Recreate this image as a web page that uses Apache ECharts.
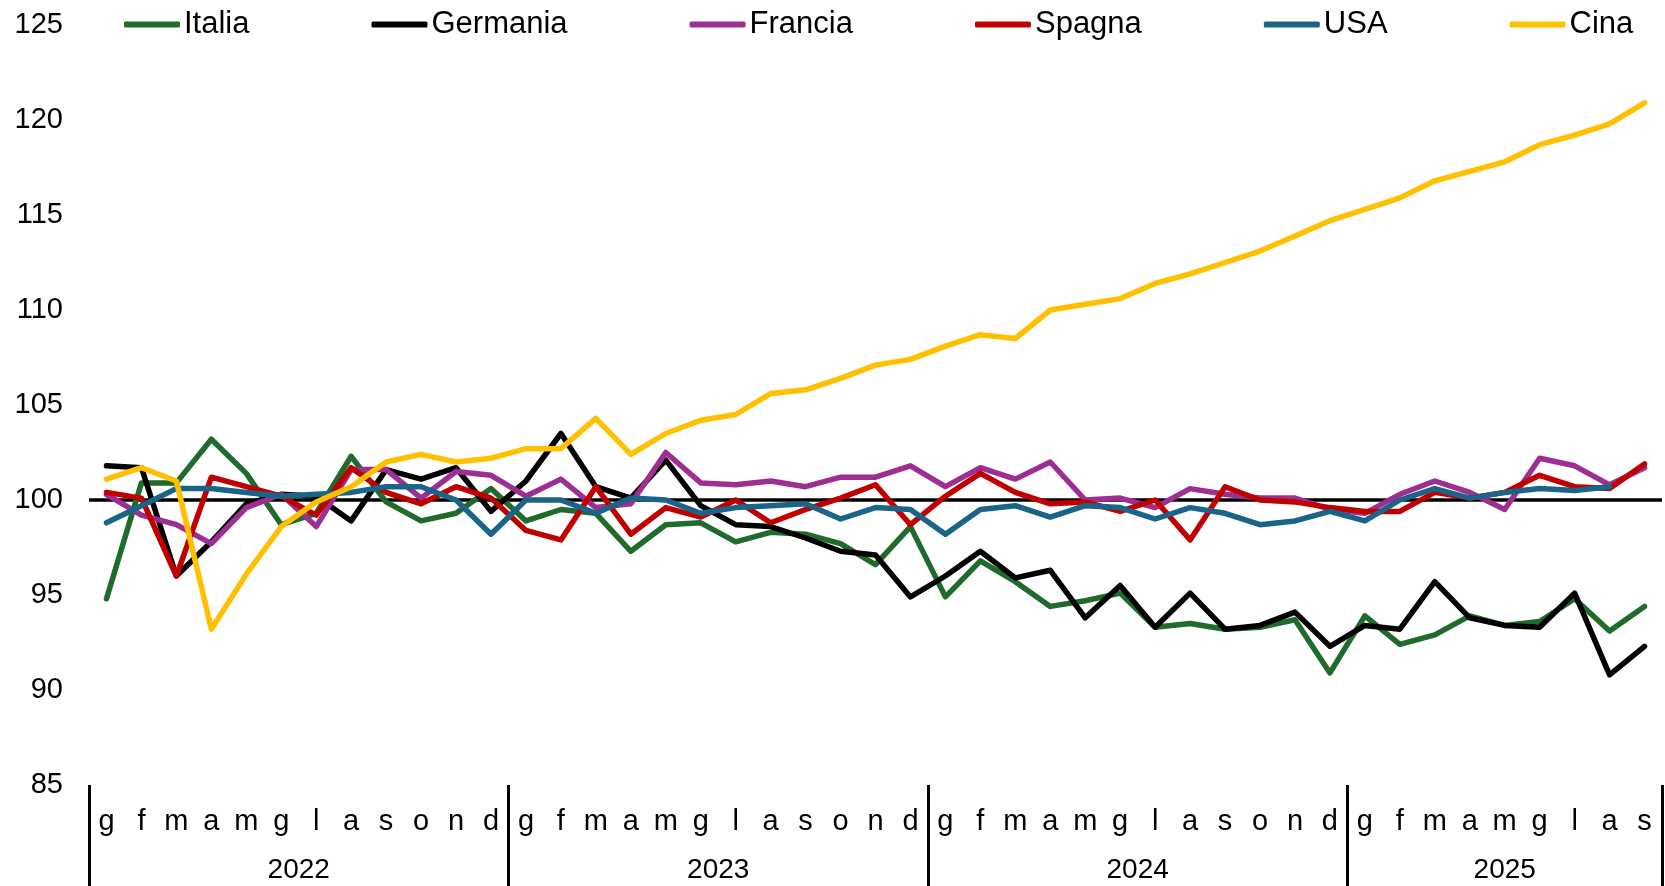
<!DOCTYPE html>
<html>
<head>
<meta charset="utf-8">
<title>Produzione industriale</title>
<script src="https://cdn.jsdelivr.net/npm/echarts@6.0.0/dist/echarts.min.js"></script>
<style>
html,body{margin:0;padding:0;background:#fff;}
#chart{width:1665px;height:886px;}
</style>
</head>
<body>
<div id="chart"></div>
<script>
let mesi=["g","f","m","a","m","g","l","a","s","o","n","d"];
let anni=["2022","2023","2024","2025"];
let nMesi=45;//gen 2022 - set 2025

let italia=[94.8,100.9,100.9,103.2,101.4,98.7,99.3,102.3,99.9,98.9,99.3,100.6,
	98.9,99.5,99.3,97.3,98.7,98.8,97.8,98.3,98.2,97.7,96.6,98.6,
	94.9,96.8,95.7,94.4,94.7,95.1,93.3,93.5,93.2,93.3,93.7,90.9,
	93.9,92.4,92.9,93.9,93.4,93.6,94.8,93.1,94.4];
let germania=[101.8,101.7,96.0,97.8,99.8,100.3,100.2,98.9,101.6,101.1,101.7,99.4,
	101.0,103.5,100.7,100.1,102.1,99.7,98.7,98.6,98.0,97.3,97.1,94.9,
	96.0,97.3,95.9,96.3,93.8,95.5,93.3,95.1,93.2,93.4,94.1,92.3,
	93.4,93.2,95.7,93.8,93.4,93.3,95.1,90.8,92.3];
let francia=[100.3,99.2,98.7,97.7,99.6,100.3,98.6,101.6,101.6,100.1,101.5,101.3,
	100.2,101.1,99.6,99.8,102.5,100.9,100.8,101.0,100.7,101.2,101.2,101.8,
	100.7,101.7,101.1,102.0,100.0,100.1,99.6,100.6,100.3,100.1,100.1,99.5,
	99.3,100.3,101.0,100.4,99.5,102.2,101.8,100.8,101.7];
let spagna=[100.4,100.1,96.0,101.2,100.7,100.2,99.2,101.7,100.4,99.8,100.7,100.1,
	98.4,97.9,100.7,98.2,99.6,99.1,100.0,98.8,99.5,100.1,100.8,98.7,
	100.2,101.4,100.4,99.8,99.9,99.4,100.0,97.9,100.7,100.0,99.9,99.6,
	99.4,99.4,100.4,100.1,100.4,101.3,100.7,100.6,101.9];
let usa=[98.8,99.7,100.6,100.6,100.4,100.2,100.3,100.4,100.7,100.7,100.0,98.2,
	100.0,100.0,99.3,100.1,100.0,99.3,99.6,99.7,99.8,99.0,99.6,99.5,
	98.2,99.5,99.7,99.1,99.7,99.6,99.0,99.6,99.3,98.7,98.9,99.4,
	98.9,100.0,100.6,100.1,100.4,100.6,100.5,100.7,null];
let cina=[101.1,101.7,101.0,93.2,96.1,98.6,99.9,100.7,102.0,102.4,102.0,102.2,
	102.7,102.7,104.3,102.4,103.5,104.2,104.5,105.6,105.8,106.4,107.1,107.4,
	108.1,108.7,108.5,110.0,110.3,110.6,111.4,111.9,112.5,113.1,113.9,114.7,
	115.3,115.9,116.8,117.3,117.8,118.7,119.2,119.8,120.9];

let nomi=["Italia","Germania","Francia","Spagna","USA","Cina"];
let colori=["#1f6b2b","#000000","#9e2f92","#c00000","#1a6487","#ffc000"];
let font="'Liberation Sans', Arial, sans-serif";

//categorie mensili
let categorie=[];
for(let i=0;i<nMesi;i++){
	categorie.push(mesi[i%12]);
}
//centro di ogni anno (in mesi) per l'etichetta dell'anno
let centriAnni={};
anni.forEach(function(a,k){
	let inizio=k*12;
	let fine=Math.min(inizio+12,nMesi);
	centriAnni[((inizio+fine)/2).toFixed(1)]=a;
});

let chart=echarts.init(document.getElementById("chart"));

let serie=[italia,germania,francia,spagna,usa,cina].map(function(d,k){
	return {
		name:nomi[k],
		type:"line",
		data:d,
		symbol:"none",
		z:10,
		lineStyle:{width:5.5,color:colori[k],cap:"round",join:"round"},
		itemStyle:{color:colori[k]}
	};
});
//linea a 100
serie[0].markLine={
	silent:true,
	symbol:["none","none"],
	label:{show:false},
	lineStyle:{color:"#000",width:3.5,type:"solid"},
	data:[{yAxis:100}]
};

let option={
	backgroundColor:"#ffffff",
	animation:false,
	textStyle:{fontFamily:font,color:"#000"},
	legend:{
		data:nomi,
		top:4,
		left:119,
		icon:"roundRect",
		itemWidth:56,
		itemHeight:6,
		itemGap:122,
		textStyle:{fontFamily:font,fontSize:31,color:"#000",padding:[0,0,0,-1]}
	},
	grid:{left:89,right:-10,top:25,bottom:101,containLabel:false},
	xAxis:[{
		type:"category",
		data:categorie,
		boundaryGap:true,
		axisLine:{show:false},
		axisTick:{
			show:true,
			length:103,
			interval:function(i){return i%12===0;},
			lineStyle:{color:"#000",width:3}
		},
		axisLabel:{interval:0,margin:22,fontFamily:font,fontSize:29,color:"#000"},
		splitLine:{show:false}
	},{
		type:"value",
		position:"bottom",
		min:0,
		max:nMesi,
		interval:1.5,
		offset:48,
		axisLine:{show:false},
		axisTick:{show:false},
		splitLine:{show:false},
		axisLabel:{
			margin:23,
			fontFamily:font,
			fontSize:28,
			color:"#000",
			formatter:function(v){
				return centriAnni[v.toFixed(1)]||"";
			}
		}
	}],
	yAxis:{
		type:"value",
		min:85,
		max:125,
		interval:5,
		axisLine:{show:false},
		axisTick:{show:false},
		splitLine:{show:false},
		axisLabel:{margin:26,fontFamily:font,fontSize:29,color:"#000"}
	},
	series:serie
};
chart.setOption(option);
</script>
</body>
</html>
